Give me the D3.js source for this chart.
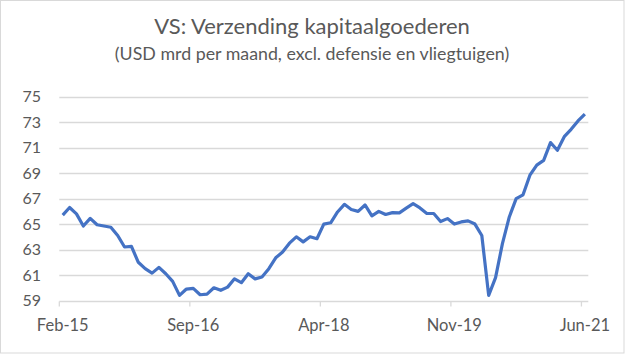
<!DOCTYPE html>
<html><head><meta charset="utf-8">
<script src="https://cdn.jsdelivr.net/npm/d3@7"></script>
<style>body{margin:0;background:#fff}svg{display:block}text{font-family:Lato,"Open Sans",sans-serif;fill:#595959}</style>
</head><body><svg id="c" width="625" height="354"></svg>
<script>
const title = "VS: Verzending kapitaalgoederen";
const subtitle = "(USD mrd per maand, excl. defensie en vliegtuigen)";
const xTickIndex = [0, 19, 38, 57, 76];
const xTickLabels = ["Feb-15", "Sep-16", "Apr-18", "Nov-19", "Jun-21"];
const yTicks = [59, 61, 63, 65, 67, 69, 71, 73, 75];
const values = [
 65.7, 66.3, 65.8, 64.85, 65.45, 64.95, 64.85, 64.75, 64.1, 63.2,
 63.25, 62.0, 61.5, 61.15, 61.6, 61.1, 60.5, 59.4, 59.9, 59.95,
 59.45, 59.5, 60.0, 59.8, 60.05, 60.7, 60.4, 61.1, 60.7, 60.85,
 61.5, 62.35, 62.8, 63.5, 64.0, 63.6, 64.0, 63.85, 65.0, 65.1,
 65.95, 66.55, 66.15, 66.0, 66.5, 65.65, 66.0, 65.75, 65.9, 65.88,
 66.25, 66.6, 66.27, 65.83, 65.83, 65.2, 65.43, 65.0, 65.17, 65.25,
 65.0, 64.1, 59.4, 60.8, 63.46, 65.56, 67.0, 67.3, 68.84, 69.63,
 70.0, 71.4, 70.8, 71.86, 72.44, 73.1, 73.64
];

const svg = d3.select("#c");
svg.append("rect").attr("x",0.5).attr("y",0.5).attr("width",623.5).attr("height",352.5)
  .attr("fill","#fff").attr("stroke","#d9d9d9");

const gL = 59.3, gR = 588.3;
const xb = d3.scaleBand().domain(d3.range(values.length)).range([gL, gR]);
const xc = i => xb(i) + xb.bandwidth()/2;
const y = d3.scaleLinear().domain([59, 75]).range([300.5, 96.7]);

svg.append("text").attr("x",312).attr("y",34).attr("text-anchor","middle")
  .attr("font-size",22).text(title);
svg.append("text").attr("x",312).attr("y",60).attr("text-anchor","middle")
  .attr("font-size",17.8).text(subtitle);

// gridlines
svg.append("g").selectAll("line").data(yTicks.filter(d=>d!==59)).join("line")
  .attr("x1",gL).attr("x2",gR).attr("y1",d=>Math.round(y(d))+0.5).attr("y2",d=>Math.round(y(d))+0.5)
  .attr("stroke","#d9d9d9").attr("stroke-width",1.3);

// y labels
svg.append("g").selectAll("text").data(yTicks).join("text")
  .attr("x",41).attr("y",d=>y(d)).attr("dy","0.36em").attr("text-anchor","end")
  .attr("font-size",16).text(d=>d);

// x axis
const yb = Math.round(y(59))+0.5;
const gx = svg.append("g");
gx.append("line").attr("x1",gL).attr("x2",gR).attr("y1",yb).attr("y2",yb)
  .attr("stroke","#d9d9d9").attr("stroke-width",1.3);
gx.selectAll("line.tk").data(xTickIndex).join("line").attr("class","tk")
  .attr("x1",d=>xb(d)).attr("x2",d=>xb(d)).attr("y1",yb).attr("y2",yb+5)
  .attr("stroke","#d9d9d9").attr("stroke-width",1.3);
gx.selectAll("text").data(xTickIndex).join("text")
  .attr("x",d=>xc(d)).attr("y",331).attr("text-anchor","middle")
  .attr("font-size",16.5).text((d,i)=>xTickLabels[i]);

// line
const line = d3.line().x((d,i)=>xc(i)).y(d=>y(d));
svg.append("path").datum(values).attr("d",line).attr("fill","none")
  .attr("stroke","#4472C4").attr("stroke-width",3.2).attr("stroke-linejoin","round");
</script></body></html>
